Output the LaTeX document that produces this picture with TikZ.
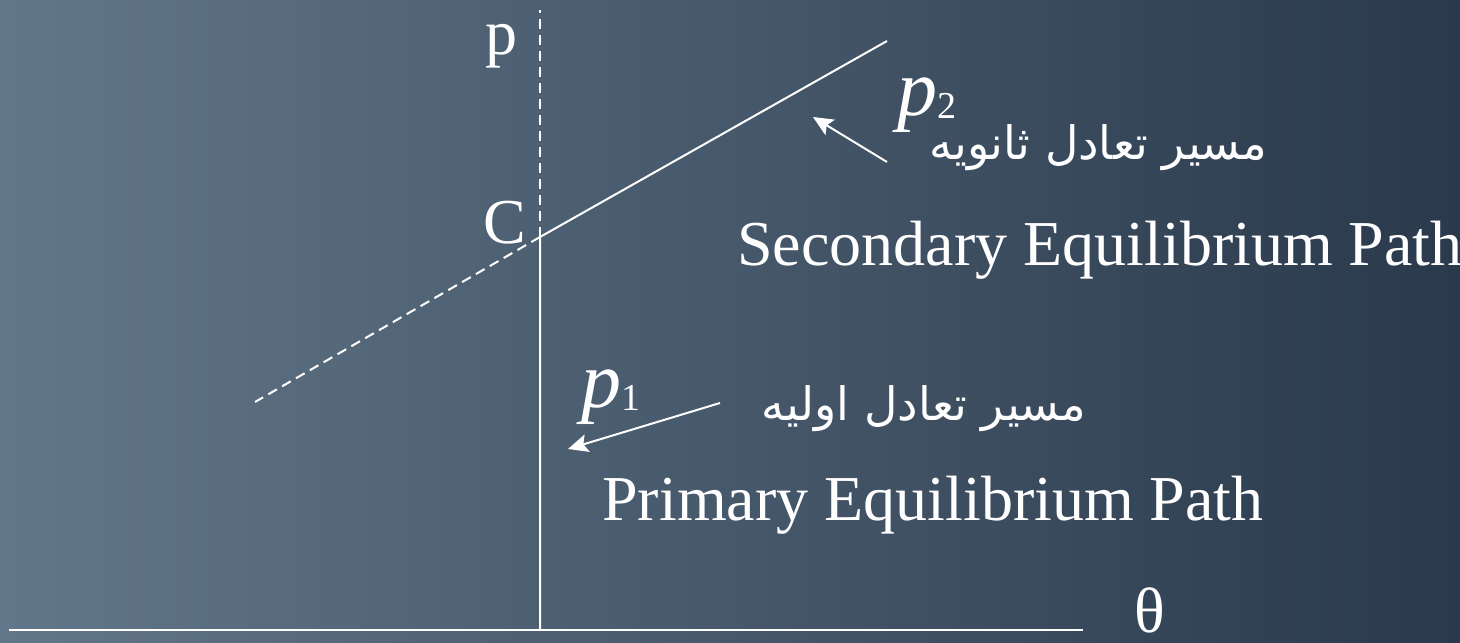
\documentclass[tikz,border=0pt]{standalone}
\usepackage{fontspec}
\setmainfont{Liberation Serif}
\newfontfamily\farsi[Script=Arabic]{DejaVu Sans}
\TeXXeTstate=1
\usetikzlibrary{arrows.meta,positioning,calc}
\definecolor{bgleft}{HTML}{627789}
\definecolor{bgright}{HTML}{2A394C}
\newcommand{\loadp}[1]{\textit{p}\raisebox{-1.5pt}{\fontsize{19}{19}\selectfont #1}}

\begin{document}
\begin{tikzpicture}[
    x=0.5pt, y=-0.5pt,
    eqpath/.style={white, line width=1pt},
    guide/.style={white, line width=1pt, dash pattern=on 5pt off 3pt},
    pointer/.style={-{Stealth[length=10pt, width=9pt, inset=2pt]}, white, line width=1pt},
    lbl/.style={text=white, font=\fontsize{32}{36}\selectfont, inner sep=0pt},
    load/.style={text=white, font=\fontsize{40}{40}\selectfont, inner sep=0pt},
    fa/.style={text=white, font=\farsi\fontsize{23}{26}\selectfont, inner sep=0pt}
]
\useasboundingbox (0,0) rectangle (1460,642);
\shade[left color=bgleft, right color=bgright] (0,0) rectangle (1460,642);

% axes and paths
\coordinate (origin) at (540,630);
\coordinate (crit) at (540,237);
\coordinate (ptop) at (540,10);
\coordinate (sec) at (887,41);
\coordinate (imag) at (255,402);
\coordinate (axl) at (9,630);
\coordinate (axr) at (1083,630);

\draw[eqpath, line width=1.2pt] (axl) -- (axr);
\draw[eqpath] (origin) -- (crit) -- (sec);
\draw[guide] (crit) -- (ptop);
\draw[guide] (crit) -- (imag);

% labels
\node[lbl, anchor=base west] (plbl) at (485,55) {p};
\node[lbl, anchor=base west] (clbl) at (483,243) {C};
\node[lbl, anchor=base west] (thlbl) at (1134,632) {θ};
\node[load, anchor=base west] (ptwo) at (897,116) {\loadp{2}};
\node[load, anchor=base west] (pone) at (581,407) {\loadp{1}};

\node[fa, anchor=base east] (fasec) at (1268,159) {\beginR مسیر تعادل ثانویه\endR};
\node[fa, anchor=base east] (fapri) at (1087,420) {\beginR مسیر تعادل اولیه\endR};
\node[lbl, anchor=base west] (ensec) at (737,265) {Secondary Equilibrium Path};
\node[lbl, anchor=base west] (enpri) at (602,520) {Primary Equilibrium Path};

% pointers
\coordinate (tailtwo) at (887,162);
\coordinate (tiptwo) at (813,117);
\coordinate (tailone) at (720,403);
\coordinate (tipone) at (568,449);
\draw[pointer] (tailtwo) -- (tiptwo);
\draw[pointer] (tailone) -- (tipone);
\end{tikzpicture}
\end{document}
